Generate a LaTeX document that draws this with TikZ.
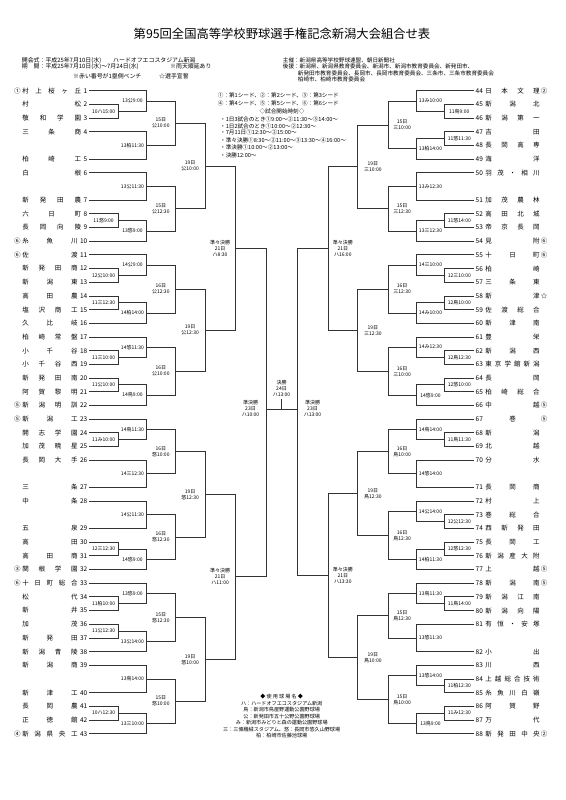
\documentclass[tikz,border=0pt]{standalone}
\usepackage{fontspec}
\setmainfont{Noto Sans CJK JP}
\usetikzlibrary{calc}
\def\gobb#1{}
\def\spr#1{\sprA#1\relax}
\def\sprA#1#2{#1\ifx\relax#2\expandafter\gobb\else\hfill\expandafter\sprA\fi#2}
\def\colLP{118.3}\def\colLA{146.7}\def\colLB{175}\def\colLC{205.3}\def\colLD{235}
\def\labLP{103.6}\def\labLA{132.5}\def\labLB{160.8}\def\labLC{190.1}\def\labLD{220.1}
\def\colRP{444.7}\def\colRA{416.3}\def\colRB{388}\def\colRC{357.7}\def\colRD{328}
\def\labRP{459.3}\def\labRA{430.5}\def\labRB{402.2}\def\labRC{372.8}\def\labRD{342.8}
\tikzset{
 br/.style={draw=black!80, line width=0.75pt},
 tn/.style={font=\fontsize{6.5}{7}\selectfont, inner sep=0pt},
 lb/.style={font=\fontsize{5}{6}\selectfont, inner sep=0pt, align=center},
 hd/.style={font=\fontsize{5.6}{6.5}\selectfont, inner sep=0pt, anchor=west},
 hl/.style={font=\fontsize{5.9}{6.5}\selectfont, inner sep=0pt, anchor=west},
 nt/.style={font=\fontsize{5.6}{6.5}\selectfont, inner sep=0pt},
 lg/.style={font=\fontsize{5.1}{6.5}\selectfont, inner sep=0pt},
}
\newcommand\LT[4]{%
 \coordinate (L#1) at (89,{90.7+13.68*#2});
 \node[tn,anchor=east] (nL#1) at (87.5,{90.7+13.68*#2}) {\makebox[65pt][s]{\spr{#3}\hspace{2.5pt}#1}};
 \node[tn] (sL#1) at (17.3,{90.7+13.68*#2}) {#4};
}
\newcommand\RT[4]{%
 \coordinate (R#1) at (474,{90.7+13.68*#2});
 \node[tn,anchor=west] (nR#1) at (475.5,{90.7+13.68*#2}) {\makebox[64pt][s]{#1\hspace{2.5pt}\spr{#3}}};
 \node[tn] (sR#1) at (544,{90.7+13.68*#2}) {#4};
}
\newcommand\M[6]{%
 \coordinate (xc) at (#3,0);
 \draw[br] (#1) -- (#1 -| xc) -- (#2 -| xc) -- (#2);
 \coordinate (#5) at ($(#1 -| xc)!.5!(#2 -| xc)$);
 \node[lb] (l#5) at ($(#5)+({#4-#3},0)$) {#6};
}
\begin{document}
\begin{tikzpicture}[x=1pt,y=-1pt]
\fill[white] (0,0) rectangle (565,800);
\useasboundingbox (0,0) rectangle (565,800);
% header
\node[font=\fontsize{12.3}{14}\selectfont, inner sep=0pt] (title) at (282,34) {第95回全国高等学校野球選手権記念新潟大会組合せ表};
\node[hl] (h1) at (21.7,60.3) {開会式：平成25年7月10日(水)};
\node[hl] (h1b) at (113,60.3) {ハードオフエコスタジアム新潟};
\node[hl] (h2) at (21.7,66.7) {期\quad 間：平成25年7月10日(水)～7月24日(水)};
\node[hl] (h2b) at (170,66.7) {※雨天順延あり};
\node[hl] (h3) at (73,76.3) {※赤い番号が1塁側ベンチ};
\node[hl] (h3b) at (159,76.3) {☆選手宣誓};
\node[hd] (h4) at (282.7,60.3) {主催：新潟県高等学校野球連盟、朝日新聞社};
\node[hd] (h5) at (282.7,66.7) {後援：新潟県、新潟県教育委員会、新潟市、新潟市教育委員会、新発田市、};
\node[hd] (h6) at (297.7,73) {新発田市教育委員会、長岡市、長岡市教育委員会、三条市、三条市教育委員会};
\node[hd] (h7) at (297.7,79) {柏崎市、柏崎市教育委員会};
% notes
\node[nt,anchor=west] (n1) at (217.7,95) {①：第1シード、②：第2シード、③：第3シード};
\node[nt,anchor=west] (n2) at (217.7,103.3) {④：第4シード、⑤：第5シード、⑥：第6シード};
\node[nt] (n3) at (282,111.7) {◇試合開始時刻◇};
\node[nt,anchor=west] (n4) at (220,119.3) {・1日3試合のとき①9:00～②11:30～③14:00～};
\node[nt,anchor=west] (n5) at (220,126) {・1日2試合のとき①10:00～②12:30～};
\node[nt,anchor=west] (n6) at (220,132.7) {・7月11日①12:30～②15:00～};
\node[nt,anchor=west] (n7) at (220,140.3) {・準々決勝①8:30～②11:00～③13:30～④16:00～};
\node[nt,anchor=west] (n8) at (220,147.7) {・準決勝①10:00～②13:00～};
\node[nt,anchor=west] (n9) at (220,155) {・決勝12:00～};
% legend
\node[lg] (g1) at (281.7,696.7) {◆ 使 用 球 場 名 ◆};
\node[lg] (g2) at (281.7,703.3) {ハ：ハードオフエコスタジアム新潟};
\node[lg] (g3) at (281.7,709.8) {鳥：新潟市鳥屋野運動公園野球場};
\node[lg] (g4) at (281.7,716.2) {公：新発田市五十公野公園野球場};
\node[lg] (g5) at (281.7,722.7) {み：新潟市みどりと森の運動公園野球場};
\node[lg] (g6) at (281.7,729.1) {三：三條機械スタジアム、悠：長岡市悠久山野球場};
\node[lg] (g7) at (281.7,735.7) {柏：柏崎市佐藤池球場};
% left teams
\LT{1}{0}{村上桜ヶ丘}{①}
\LT{2}{1}{村松}{}
\LT{3}{2}{敬和学園}{}
\LT{4}{3}{三条商}{}
\LT{5}{5}{柏崎工}{}
\LT{6}{6}{白根}{}
\LT{7}{8}{新発田農}{}
\LT{8}{9}{六日町}{}
\LT{9}{10}{長岡向陵}{}
\LT{10}{11}{糸魚川}{⑥}
\LT{11}{12}{佐渡}{⑥}
\LT{12}{13}{新発田商}{}
\LT{13}{14}{新潟東}{}
\LT{14}{15}{高田農}{}
\LT{15}{16}{塩沢商工}{}
\LT{16}{17}{久比岐}{}
\LT{17}{18}{柏崎常盤}{}
\LT{18}{19}{小千谷}{}
\LT{19}{20}{小千谷西}{}
\LT{20}{21}{新発田南}{}
\LT{21}{22}{阿賀黎明}{}
\LT{22}{23}{新潟明訓}{⑤}
\LT{23}{24}{新潟工}{⑤}
\LT{24}{25}{開志学園}{}
\LT{25}{26}{加茂暁星}{}
\LT{26}{27}{長岡大手}{}
\LT{27}{29}{三条}{}
\LT{28}{30}{中条}{}
\LT{29}{32}{五泉}{}
\LT{30}{33}{高田}{}
\LT{31}{34}{高田商}{}
\LT{32}{35}{関根学園}{③}
\LT{33}{36}{十日町総合}{⑥}
\LT{34}{37}{松代}{}
\LT{35}{38}{新井}{}
\LT{36}{39}{加茂}{}
\LT{37}{40}{新発田}{}
\LT{38}{41}{新潟青陵}{}
\LT{39}{42}{新潟商}{}
\LT{40}{44}{新津工}{}
\LT{41}{45}{長岡農}{}
\LT{42}{46}{正徳館}{}
\LT{43}{47}{新潟県央工}{④}
% right teams
\RT{44}{0}{日本文理}{②}
\RT{45}{1}{新潟北}{}
\RT{46}{2}{新潟第一}{}
\RT{47}{3}{吉田}{}
\RT{48}{4}{長岡高専}{}
\RT{49}{5}{海洋}{}
\RT{50}{6}{羽茂・相川}{}
\RT{51}{8}{加茂農林}{}
\RT{52}{9}{高田北城}{}
\RT{53}{10}{帝京長岡}{}
\RT{54}{11}{見附}{⑥}
\RT{55}{12}{十日町}{⑥}
\RT{56}{13}{柏崎}{}
\RT{57}{14}{三条東}{}
\RT{58}{15}{新津}{☆}
\RT{59}{16}{佐渡総合}{}
\RT{60}{17}{新津南}{}
\RT{61}{18}{豊栄}{}
\RT{62}{19}{新潟西}{}
\RT{63}{20}{東京学館新潟}{}
\RT{64}{21}{長岡}{}
\RT{65}{22}{柏崎総合}{}
\RT{66}{23}{中越}{⑤}
\RT{67}{24}{\hfill 巻\hfill}{⑤}
\RT{68}{25}{新潟}{}
\RT{69}{26}{北越}{}
\RT{70}{27}{分水}{}
\RT{71}{29}{長岡商}{}
\RT{72}{30}{村上}{}
\RT{73}{31}{巻総合}{}
\RT{74}{32}{西新発田}{}
\RT{75}{33}{長岡工}{}
\RT{76}{34}{新潟産大附}{}
\RT{77}{35}{上越}{⑤}
\RT{78}{36}{新潟南}{⑤}
\RT{79}{37}{新潟江南}{}
\RT{80}{38}{新潟向陽}{}
\RT{81}{39}{有恒・安塚}{}
\RT{82}{41}{小出}{}
\RT{83}{42}{川西}{}
\RT{84}{43}{上越総合技術}{}
\RT{85}{44}{糸魚川白嶺}{}
\RT{86}{45}{阿賀野}{}
\RT{87}{46}{万代}{}
\RT{88}{47}{新発田中央}{②}
% left bracket
\M{L2}{L3}{\colLP}{\labLP}{p23}{10ハ15:00}
\M{L1}{p23}{\colLA}{\labLA}{a1}{13公9:00}
\M{L4}{L5}{\colLA}{\labLA}{a2}{13柏11:30}
\M{a1}{a2}{\colLB}{\labLB}{b1}{15日\\公10:00}
\M{L6}{L7}{\colLA}{\labLA}{a3}{13公11:30}
\M{L8}{L9}{\colLP}{\labLP}{p89}{11悠9:00}
\M{p89}{L10}{\colLA}{\labLA}{a4}{13悠9:00}
\M{a3}{a4}{\colLB}{\labLB}{b2}{15日\\公12:30}
\M{b1}{b2}{\colLC}{\labLC}{c1}{19日\\公10:00}
\M{L12}{L13}{\colLP}{\labLP}{p1213}{12公10:00}
\M{L11}{p1213}{\colLA}{\labLA}{a5}{14公9:00}
\M{L14}{L15}{\colLP}{\labLP}{p1415}{11三12:30}
\M{p1415}{L16}{\colLA}{\labLA}{a6}{14柏14:00}
\M{a5}{a6}{\colLB}{\labLB}{b3}{16日\\公12:30}
\M{L18}{L19}{\colLP}{\labLP}{p1819}{11三10:00}
\M{L17}{p1819}{\colLA}{\labLA}{a7}{14悠11:30}
\M{L20}{L21}{\colLP}{\labLP}{p2021}{11公10:00}
\M{p2021}{L22}{\colLA}{\labLA}{a8}{14鳥9:00}
\M{a7}{a8}{\colLB}{\labLB}{b4}{16日\\公10:00}
\M{b3}{b4}{\colLC}{\labLC}{c2}{19日\\公12:30}
\M{c1}{c2}{\colLD}{\labLD}{d1}{準々決勝\\21日\\ハ8:30}
\M{L24}{L25}{\colLP}{\labLP}{p2425}{11み10:00}
\M{L23}{p2425}{\colLA}{\labLA}{a9}{14鳥11:30}
\M{L26}{L27}{\colLA}{\labLA}{a10}{14三12:30}
\M{a9}{a10}{\colLB}{\labLB}{b5}{16日\\悠10:00}
\M{L28}{L29}{\colLA}{\labLA}{a11}{14公11:30}
\M{L30}{L31}{\colLP}{\labLP}{p3031}{12三12:30}
\M{p3031}{L32}{\colLA}{\labLA}{a12}{14悠9:00}
\M{a11}{a12}{\colLB}{\labLB}{b6}{16日\\悠12:30}
\M{b5}{b6}{\colLC}{\labLC}{c3}{19日\\悠12:30}
\M{L34}{L35}{\colLP}{\labLP}{p3435}{11柏10:00}
\M{L33}{p3435}{\colLA}{\labLA}{a13}{13悠9:00}
\M{L36}{L37}{\colLP}{\labLP}{p3637}{11公12:30}
\M{p3637}{L38}{\colLA}{\labLA}{a14}{13公14:00}
\M{a13}{a14}{\colLB}{\labLB}{b7}{15日\\悠12:30}
\M{L39}{L40}{\colLA}{\labLA}{a15}{13鳥14:00}
\M{L41}{L42}{\colLP}{\labLP}{p4142}{10ハ12:30}
\M{p4142}{L43}{\colLA}{\labLA}{a16}{13三10:00}
\M{a15}{a16}{\colLB}{\labLB}{b8}{15日\\悠10:00}
\M{b7}{b8}{\colLC}{\labLC}{c4}{19日\\悠10:00}
\M{c3}{c4}{\colLD}{\labLD}{d2}{準々決勝\\21日\\ハ11:00}
% right bracket
\M{R45}{R46}{\colRP}{\labRP}{q4546}{11鳥9:00}
\M{R44}{q4546}{\colRA}{\labRA}{e1}{13み10:00}
\M{R47}{R48}{\colRP}{\labRP}{q4748}{11悠11:30}
\M{q4748}{R49}{\colRA}{\labRA}{e2}{13柏14:00}
\M{e1}{e2}{\colRB}{\labRB}{f1}{15日\\三10:00}
\M{R50}{R51}{\colRA}{\labRA}{e3}{13み12:30}
\M{R52}{R53}{\colRP}{\labRP}{q5253}{11悠14:00}
\M{q5253}{R54}{\colRA}{\labRA}{e4}{13三12:30}
\M{e3}{e4}{\colRB}{\labRB}{f2}{15日\\三12:30}
\M{f1}{f2}{\colRC}{\labRC}{g1}{19日\\三10:00}
\M{R56}{R57}{\colRP}{\labRP}{q5657}{12三10:00}
\M{R55}{q5657}{\colRA}{\labRA}{e5}{14三10:00}
\M{R58}{R59}{\colRP}{\labRP}{q5859}{12鳥10:00}
\M{q5859}{R60}{\colRA}{\labRA}{e6}{14み10:00}
\M{e5}{e6}{\colRB}{\labRB}{f3}{16日\\三12:30}
\M{R62}{R63}{\colRP}{\labRP}{q6263}{12鳥12:30}
\M{R61}{q6263}{\colRA}{\labRA}{e7}{14み12:30}
\M{R64}{R65}{\colRP}{\labRP}{q6465}{12悠10:00}
\M{q6465}{R66}{\colRA}{\labRA}{e8}{14悠9:00}
\M{e7}{e8}{\colRB}{\labRB}{f4}{16日\\三10:00}
\M{f3}{f4}{\colRC}{\labRC}{g2}{19日\\三12:30}
\M{g1}{g2}{\colRD}{\labRD}{h1}{準々決勝\\21日\\ハ16:00}
\M{R68}{R69}{\colRP}{\labRP}{q6869}{11鳥11:30}
\M{R67}{q6869}{\colRA}{\labRA}{e9}{14鳥14:00}
\M{R70}{R71}{\colRA}{\labRA}{e10}{14悠14:00}
\M{e9}{e10}{\colRB}{\labRB}{f5}{16日\\鳥10:00}
\M{R73}{R74}{\colRP}{\labRP}{q7374}{12公12:30}
\M{R72}{q7374}{\colRA}{\labRA}{e11}{14公14:00}
\M{R75}{R76}{\colRP}{\labRP}{q7576}{12悠12:30}
\M{q7576}{R77}{\colRA}{\labRA}{e12}{14柏11:30}
\M{e11}{e12}{\colRB}{\labRB}{f6}{16日\\鳥12:30}
\M{f5}{f6}{\colRC}{\labRC}{g3}{19日\\鳥12:30}
\M{R79}{R80}{\colRP}{\labRP}{q7980}{11鳥14:00}
\M{R78}{q7980}{\colRA}{\labRA}{e13}{13鳥11:30}
\M{R81}{R82}{\colRA}{\labRA}{e14}{13悠11:30}
\M{e13}{e14}{\colRB}{\labRB}{f7}{15日\\鳥12:30}
\M{R84}{R85}{\colRP}{\labRP}{q8485}{11柏12:30}
\M{R83}{q8485}{\colRA}{\labRA}{e15}{13悠14:00}
\M{R86}{R87}{\colRP}{\labRP}{q8687}{11み12:30}
\M{q8687}{R88}{\colRA}{\labRA}{e16}{13鳥9:00}
\M{e15}{e16}{\colRB}{\labRB}{f8}{15日\\鳥10:00}
\M{f7}{f8}{\colRC}{\labRC}{g4}{19日\\鳥10:00}
\M{g3}{g4}{\colRD}{\labRD}{h2}{準々決勝\\21日\\ハ13:30}
% semifinals and final
\coordinate (xsl) at (266,0);
\coordinate (xsr) at (297,0);
\draw[br] (d1) -- (d1 -| xsl) -- (d2 -| xsl) -- (d2);
\draw[br] (h1) -- (h1 -| xsr) -- (h2 -| xsr) -- (h2);
\coordinate (sfl) at (266,409.5);
\coordinate (sfr) at (297,409.5);
\draw[br] (sfl) -- (sfr);
\coordinate (fc) at ($(sfl)!.5!(sfr)$);
\coordinate (ft) at ($(fc)+(0,-11)$);
\draw[br] (fc) -- (ft);
\node[lb,anchor=south] (fin) at ($(ft)+(0,-1.5)$) {決勝\\24日\\ハ13:00};
\node[lb] (sfll) at (250.5,408.5) {準決勝\\23日\\ハ10:00};
\node[lb] (sfrl) at (312.5,408.5) {準決勝\\23日\\ハ13:00};
\end{tikzpicture}
\end{document}
